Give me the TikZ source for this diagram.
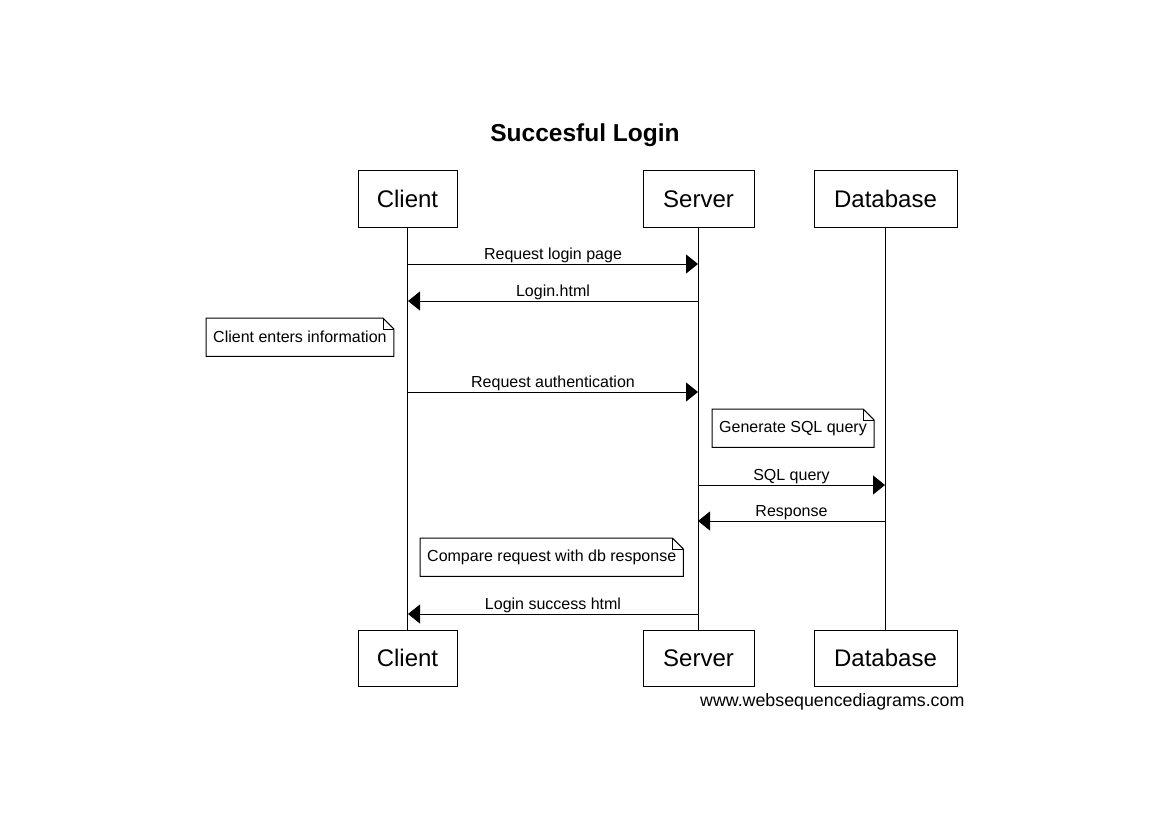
\documentclass[tikz,border=0pt]{standalone}
\usepackage{fontspec}
\setmainfont{Liberation Sans}
\usetikzlibrary{arrows.meta}
\begin{document}
\begin{tikzpicture}[x=1pt,y=-1pt,
  part/.style={draw, line width=1pt, inner sep=0pt, font=\fontsize{24}{28}\selectfont, minimum height=56pt},
  msg/.style={line width=1pt, -{Triangle[length=12pt,width=19pt]}},
  lbl/.style={font=\fontsize{16}{19}\selectfont, inner sep=0pt, anchor=base},
  life/.style={line width=1pt},
  notebox/.style={inner xsep=7pt, inner ysep=0pt, minimum height=38pt, anchor=north west, font=\fontsize{16}{19}\selectfont},
  noteline/.style={line width=1pt}
]
\useasboundingbox[fill=white] (0,0) rectangle (1169,821);

% title
\node[anchor=base, inner sep=0pt, font=\fontsize{24.5}{28}\selectfont\bfseries] (title) at (585,142) {Succesful Login};

% participants
\node[part, minimum width=99pt]  (c1) at (407.5,199) {Client};
\node[part, minimum width=111pt] (s1) at (698.5,199) {Server};
\node[part, minimum width=143pt] (d1) at (885.5,199) {Database};
\node[part, minimum width=99pt]  (c2) at (407.5,658) {Client};
\node[part, minimum width=111pt] (s2) at (698.5,658) {Server};
\node[part, minimum width=143pt] (d2) at (885.5,658) {Database};

% lifelines
\draw[life] (c1.south) -- (c2.north);
\draw[life] (s1.south) -- (s2.north);
\draw[life] (d1.south) -- (d2.north);

% points on lifelines
\coordinate (ca) at (408,264); \coordinate (sa) at (698,264);
\coordinate (cb) at (408,301); \coordinate (sb) at (698,301);
\coordinate (cc) at (408,392); \coordinate (sc) at (698,392);
\coordinate (sd) at (698,485); \coordinate (dd) at (885,485);
\coordinate (se) at (698,521); \coordinate (de) at (885,521);
\coordinate (cf) at (408,614); \coordinate (sf) at (698,614);

% messages
\draw[msg] (ca) -- (sa) node[lbl, pos=0.5, yshift=5pt] (m1) {Request login page};
\draw[msg] (sb) -- (cb) node[lbl, pos=0.5, yshift=5pt] (m2) {Login.html};
\draw[msg] (cc) -- (sc) node[lbl, pos=0.5, yshift=5pt] (m3) {Request authentication};
\draw[msg] (sd) -- (dd) node[lbl, pos=0.5, yshift=5pt] (m4) {SQL query};
\draw[msg] (de) -- (se) node[lbl, pos=0.5, yshift=5pt] (m5) {Response};
\draw[msg] (sf) -- (cf) node[lbl, pos=0.5, yshift=5pt] (m6) {Login success html};

% notes
\node[notebox] (n1) at (206,318) {Client enters information};
\node[notebox] (n2) at (712,409) {Generate SQL query};
\node[notebox] (n3) at (420,538) {Compare request with db response};
\foreach \n in {n1,n2,n3}{
  \draw[noteline] (\n.north west) -- ([xshift=-11pt]\n.north east) -- ([yshift=-11pt]\n.north east) -- (\n.south east) -- (\n.south west) -- cycle;
  \draw[line width=0.6pt] ([xshift=-11pt]\n.north east) -- ([xshift=-11pt,yshift=-11pt]\n.north east) -- ([yshift=-11pt]\n.north east);
}

% watermark
\node[anchor=base west, inner sep=0pt, font=\fontsize{17.8}{20}\selectfont] (wm) at (700,706) {www.websequencediagrams.com};
\end{tikzpicture}
\end{document}
